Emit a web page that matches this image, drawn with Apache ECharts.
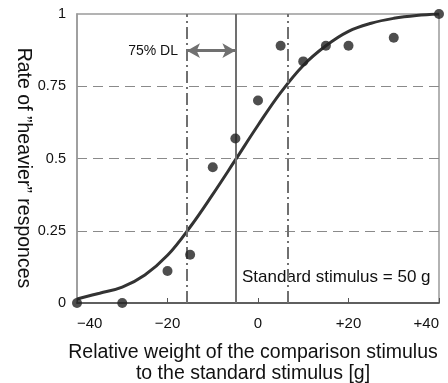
<!DOCTYPE html>
<html>
<head>
<meta charset="utf-8">
<script src="https://cdn.jsdelivr.net/npm/echarts@6/dist/echarts.min.js"></script>
<style>
html,body{margin:0;padding:0;background:#fff;}
#chart{width:448px;height:383px;}
</style>
</head>
<body>
<div id="chart"></div>
<script>
// Observed data points
var pointX = [-40, -30, -20, -15, -10, -5, 0, 5, 10, 15, 20, 30, 40];
var pointY = [0, 0, 0.111, 0.167, 0.470, 0.569, 0.701, 0.890, 0.836, 0.890, 0.890, 0.918, 1.0];
// Fitted psychometric curve
var curveX = [-40, -35, -30, -25, -20, -15, -10, -5, 0, 5, 10, 15, 20, 25, 30, 35, 40];
var curveY = [0.014, 0.034, 0.055, 0.097, 0.165, 0.263, 0.376, 0.495, 0.615, 0.728, 0.822, 0.890, 0.940, 0.968, 0.985, 0.995, 1.0];
// Reference lines
var lowerDL = -15.7;
var pse = -5;
var upperDL = 6.5;
var arrowY = 0.873;
// Axis ticks
var xTicks = {'-40': '\u221240', '-20': '\u221220', '0': '0', '20': '+20', '40': '+40'};

var chart = echarts.init(document.getElementById('chart'), null, {renderer: 'canvas'});
var font = '"Liberation Sans", Arial, sans-serif';
var dashDot = {color: '#707070', width: 2, type: [12, 4, 2, 4]};

var option = {
  backgroundColor: '#fff',
  animation: false,
  grid: {left: 77, right: 9, top: 14, bottom: 80, show: true, borderColor: '#9a9a9a', borderWidth: 1.5, containLabel: false},
  xAxis: {
    type: 'value', min: -40, max: 40, interval: 20,
    axisLine: {show: true, onZero: false, lineStyle: {color: '#444', width: 1.5}},
    axisTick: {show: true, inside: true, length: 5, lineStyle: {color: '#555', width: 1}},
    axisLabel: {fontFamily: font, fontSize: 15, color: '#111', margin: 13, alignMinLabel: 'left', alignMaxLabel: 'right',
      formatter: function (v) { return xTicks[String(v)] !== undefined ? xTicks[String(v)] : String(v); }},
    splitLine: {show: false}
  },
  yAxis: {
    type: 'value', min: 0, max: 1, interval: 0.25,
    axisLine: {show: true, onZero: false, lineStyle: {color: '#9a9a9a', width: 1.5}},
    axisTick: {show: false},
    axisLabel: {fontFamily: font, fontSize: 14.5, color: '#111', margin: 11},
    splitLine: {show: true, showMinLine: false, showMaxLine: false, lineStyle: {color: '#8a8a8a', width: 1.2, type: [10, 6]}}
  },
  series: [
    {
      type: 'line',
      data: curveX.map(function (x, i) { return [x, curveY[i]]; }),
      smooth: 0.4,
      showSymbol: false,
      lineStyle: {color: '#333', width: 3},
      z: 3,
      markLine: {
        silent: true,
        symbol: 'none',
        label: {show: false},
        data: [
          {xAxis: lowerDL, lineStyle: dashDot},
          {xAxis: pse, lineStyle: {color: '#707070', width: 2, type: 'solid'}},
          {xAxis: upperDL, lineStyle: dashDot}
        ]
      }
    },
    {
      type: 'line',
      data: [],
      markLine: {
        silent: true,
        symbol: ['arrow', 'arrow'],
        symbolSize: [11, 13],
        label: {show: false},
        lineStyle: {color: '#707070', width: 3, type: 'solid'},
        itemStyle: {color: '#707070'},
        data: [[{coord: [lowerDL, arrowY]}, {coord: [pse, arrowY]}]]
      }
    },
    {
      type: 'scatter',
      data: pointX.map(function (x, i) { return [x, pointY[i]]; }),
      symbol: 'circle',
      symbolSize: 10,
      clip: false,
      itemStyle: {color: '#222'},
      z: 5
    }
  ],
  graphic: [
    {type: 'text', x: 178, y: 51, style: {text: '75% DL', font: '14px ' + font, fill: '#111', align: 'right', verticalAlign: 'middle'}},
    {type: 'text', x: 242, y: 277, style: {text: 'Standard stimulus = 50 g', font: '17px ' + font, fill: '#111', align: 'left', verticalAlign: 'middle'}},
    {type: 'text', x: 23, y: 168, rotation: -Math.PI / 2, style: {text: 'Rate of \u201dheavier\u201d responces', font: '19.5px ' + font, fill: '#111', align: 'center', verticalAlign: 'middle'}},
    {type: 'text', x: 253, y: 353, style: {text: 'Relative weight of the comparison stimulus', font: '19.5px ' + font, fill: '#111', align: 'center', verticalAlign: 'middle'}},
    {type: 'text', x: 253, y: 374, style: {text: 'to the standard stimulus [g]', font: '19.5px ' + font, fill: '#111', align: 'center', verticalAlign: 'middle'}}
  ]
};
chart.setOption(option);
</script>
</body>
</html>
